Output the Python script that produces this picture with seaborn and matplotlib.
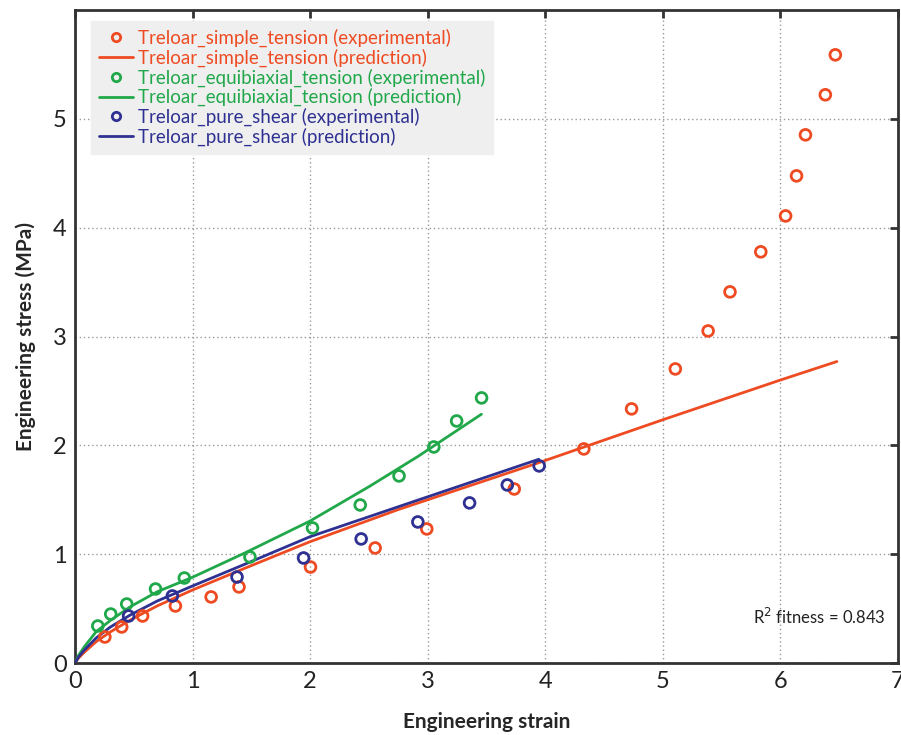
import numpy as np
import pandas as pd
import matplotlib
matplotlib.use("Agg")
import matplotlib.pyplot as plt
from matplotlib.lines import Line2D
import seaborn as sns

# ---- data ----
simple_exp_x = [0.254, 0.397, 0.575, 0.854, 1.158, 1.395, 2.003, 2.553, 2.992, 3.736,
                4.328, 4.734, 5.106, 5.385, 5.571, 5.833, 6.044, 6.137, 6.213, 6.382, 6.467]
simple_exp_y = [0.239, 0.331, 0.432, 0.524, 0.607, 0.699, 0.882, 1.057, 1.232, 1.599,
                1.967, 2.335, 2.702, 3.051, 3.410, 3.778, 4.108, 4.476, 4.853, 5.221, 5.588]
simple_pred_x = [0.0, 0.03, 0.08, 0.18, 0.30, 0.47, 0.70, 1.0, 1.45, 2.0, 2.75, 3.93, 5.0, 6.0, 6.48]
simple_pred_y = [0.0, 0.045, 0.10, 0.196, 0.285, 0.395, 0.525, 0.671, 0.873, 1.115, 1.41, 1.835, 2.235, 2.60, 2.77]

equi_exp_x = [0.194, 0.304, 0.440, 0.685, 0.930, 1.488, 2.020, 2.426, 2.756, 3.052, 3.246, 3.458]
equi_exp_y = [0.340, 0.450, 0.542, 0.680, 0.781, 0.974, 1.241, 1.452, 1.719, 1.985, 2.224, 2.436]
equi_pred_x = [0.0, 0.03, 0.08, 0.18, 0.30, 0.47, 0.70, 1.0, 1.45, 2.0, 2.5, 2.92, 3.457]
equi_pred_y = [0.0, 0.07, 0.15, 0.288, 0.39, 0.517, 0.655, 0.788, 1.014, 1.305, 1.62, 1.90, 2.286]

shear_exp_x = [0.456, 0.828, 1.378, 1.944, 2.434, 2.916, 3.356, 3.677, 3.948]
shear_exp_y = [0.432, 0.616, 0.790, 0.965, 1.140, 1.296, 1.471, 1.636, 1.811]
shear_pred_x = [0.0, 0.03, 0.08, 0.18, 0.30, 0.47, 0.70, 1.0, 1.45, 2.0, 2.92, 3.945]
shear_pred_y = [0.0, 0.055, 0.12, 0.23, 0.33, 0.441, 0.57, 0.708, 0.91, 1.161, 1.498, 1.872]

series_names = ["Treloar_simple_tension", "Treloar_equibiaxial_tension", "Treloar_pure_shear"]
x_ticks = [0, 1, 2, 3, 4, 5, 6, 7]
y_ticks = [0, 1, 2, 3, 4, 5]
r2_value = 0.843

RED = "#EE4B22"
GREEN = "#21A84A"
BLUE = "#2E3192"
colors = {series_names[0]: RED, series_names[1]: GREEN, series_names[2]: BLUE}

exp_df = pd.concat([
    pd.DataFrame({"strain": simple_exp_x, "stress": simple_exp_y, "series": series_names[0]}),
    pd.DataFrame({"strain": equi_exp_x, "stress": equi_exp_y, "series": series_names[1]}),
    pd.DataFrame({"strain": shear_exp_x, "stress": shear_exp_y, "series": series_names[2]}),
], ignore_index=True)
pred_df = pd.concat([
    pd.DataFrame({"strain": simple_pred_x, "stress": simple_pred_y, "series": series_names[0]}),
    pd.DataFrame({"strain": equi_pred_x, "stress": equi_pred_y, "series": series_names[1]}),
    pd.DataFrame({"strain": shear_pred_x, "stress": shear_pred_y, "series": series_names[2]}),
], ignore_index=True)

sns.set_style("white")
plt.rcParams["font.family"] = ["Lato", "DejaVu Sans"]

fig = plt.figure(figsize=(9.01, 7.35), dpi=100)
ax = fig.add_axes([75 / 901, 72 / 735, 823 / 901, 653 / 735])

sns.lineplot(data=pred_df, x="strain", y="stress", hue="series", palette=colors,
             sort=False, estimator=None, linewidth=2.0, legend=False, ax=ax, zorder=3)
sns.scatterplot(data=exp_df, x="strain", y="stress", hue="series", palette=colors,
                marker="o", s=60, linewidth=2.0, legend=False, ax=ax, zorder=4)
# make circles hollow with coloured edges
for coll in ax.collections:
    fc = coll.get_facecolors()
    coll.set_edgecolors(fc)
    coll.set_facecolors("none")

ax.set_xlim(0, 7)
ax.set_ylim(0, 6)
ax.set_xticks(x_ticks)
ax.set_yticks(y_ticks)
ax.grid(True, color="#999999", linestyle=(0, (1, 2)), linewidth=1.0)
ax.tick_params(direction="in", length=6, width=2, color="#333333",
               top=True, right=True, labelsize=17, labelcolor="#222222", pad=6)
for s in ax.spines.values():
    s.set_color("#333333")
    s.set_linewidth(2)
ax.set_xlabel("Engineering strain", fontsize=15, fontweight="bold", labelpad=14)
ax.set_ylabel("Engineering stress (MPa)", fontsize=15, fontweight="bold", labelpad=12)

handles, labels, lcolors = [], [], []
for name in series_names:
    c = colors[name]
    handles.append(Line2D([], [], linestyle="none", marker="o", markersize=6,
                          markerfacecolor="none", markeredgecolor=c, markeredgewidth=2))
    labels.append(f"{name} (experimental)")
    lcolors.append(c)
    handles.append(Line2D([], [], color=c, linewidth=2))
    labels.append(f"{name} (prediction)")
    lcolors.append(c)
leg = ax.legend(handles, labels, loc="upper left", bbox_to_anchor=(0.02, 0.983),
                fontsize=13.5, frameon=True, fancybox=False, framealpha=1,
                handlelength=1.8, handletextpad=0.3, labelspacing=0.08,
                borderpad=0.4, borderaxespad=0)
leg.get_frame().set_facecolor("#EFEFEF")
leg.get_frame().set_edgecolor("#EFEFEF")
for t, c in zip(leg.get_texts(), lcolors):
    t.set_color(c)

ax.text(0.985, 0.07, f"R$^2$ fitness = {r2_value}", transform=ax.transAxes,
        ha="right", va="center", fontsize=12, color="#222222")

fig.savefig("out.png", dpi=100)
